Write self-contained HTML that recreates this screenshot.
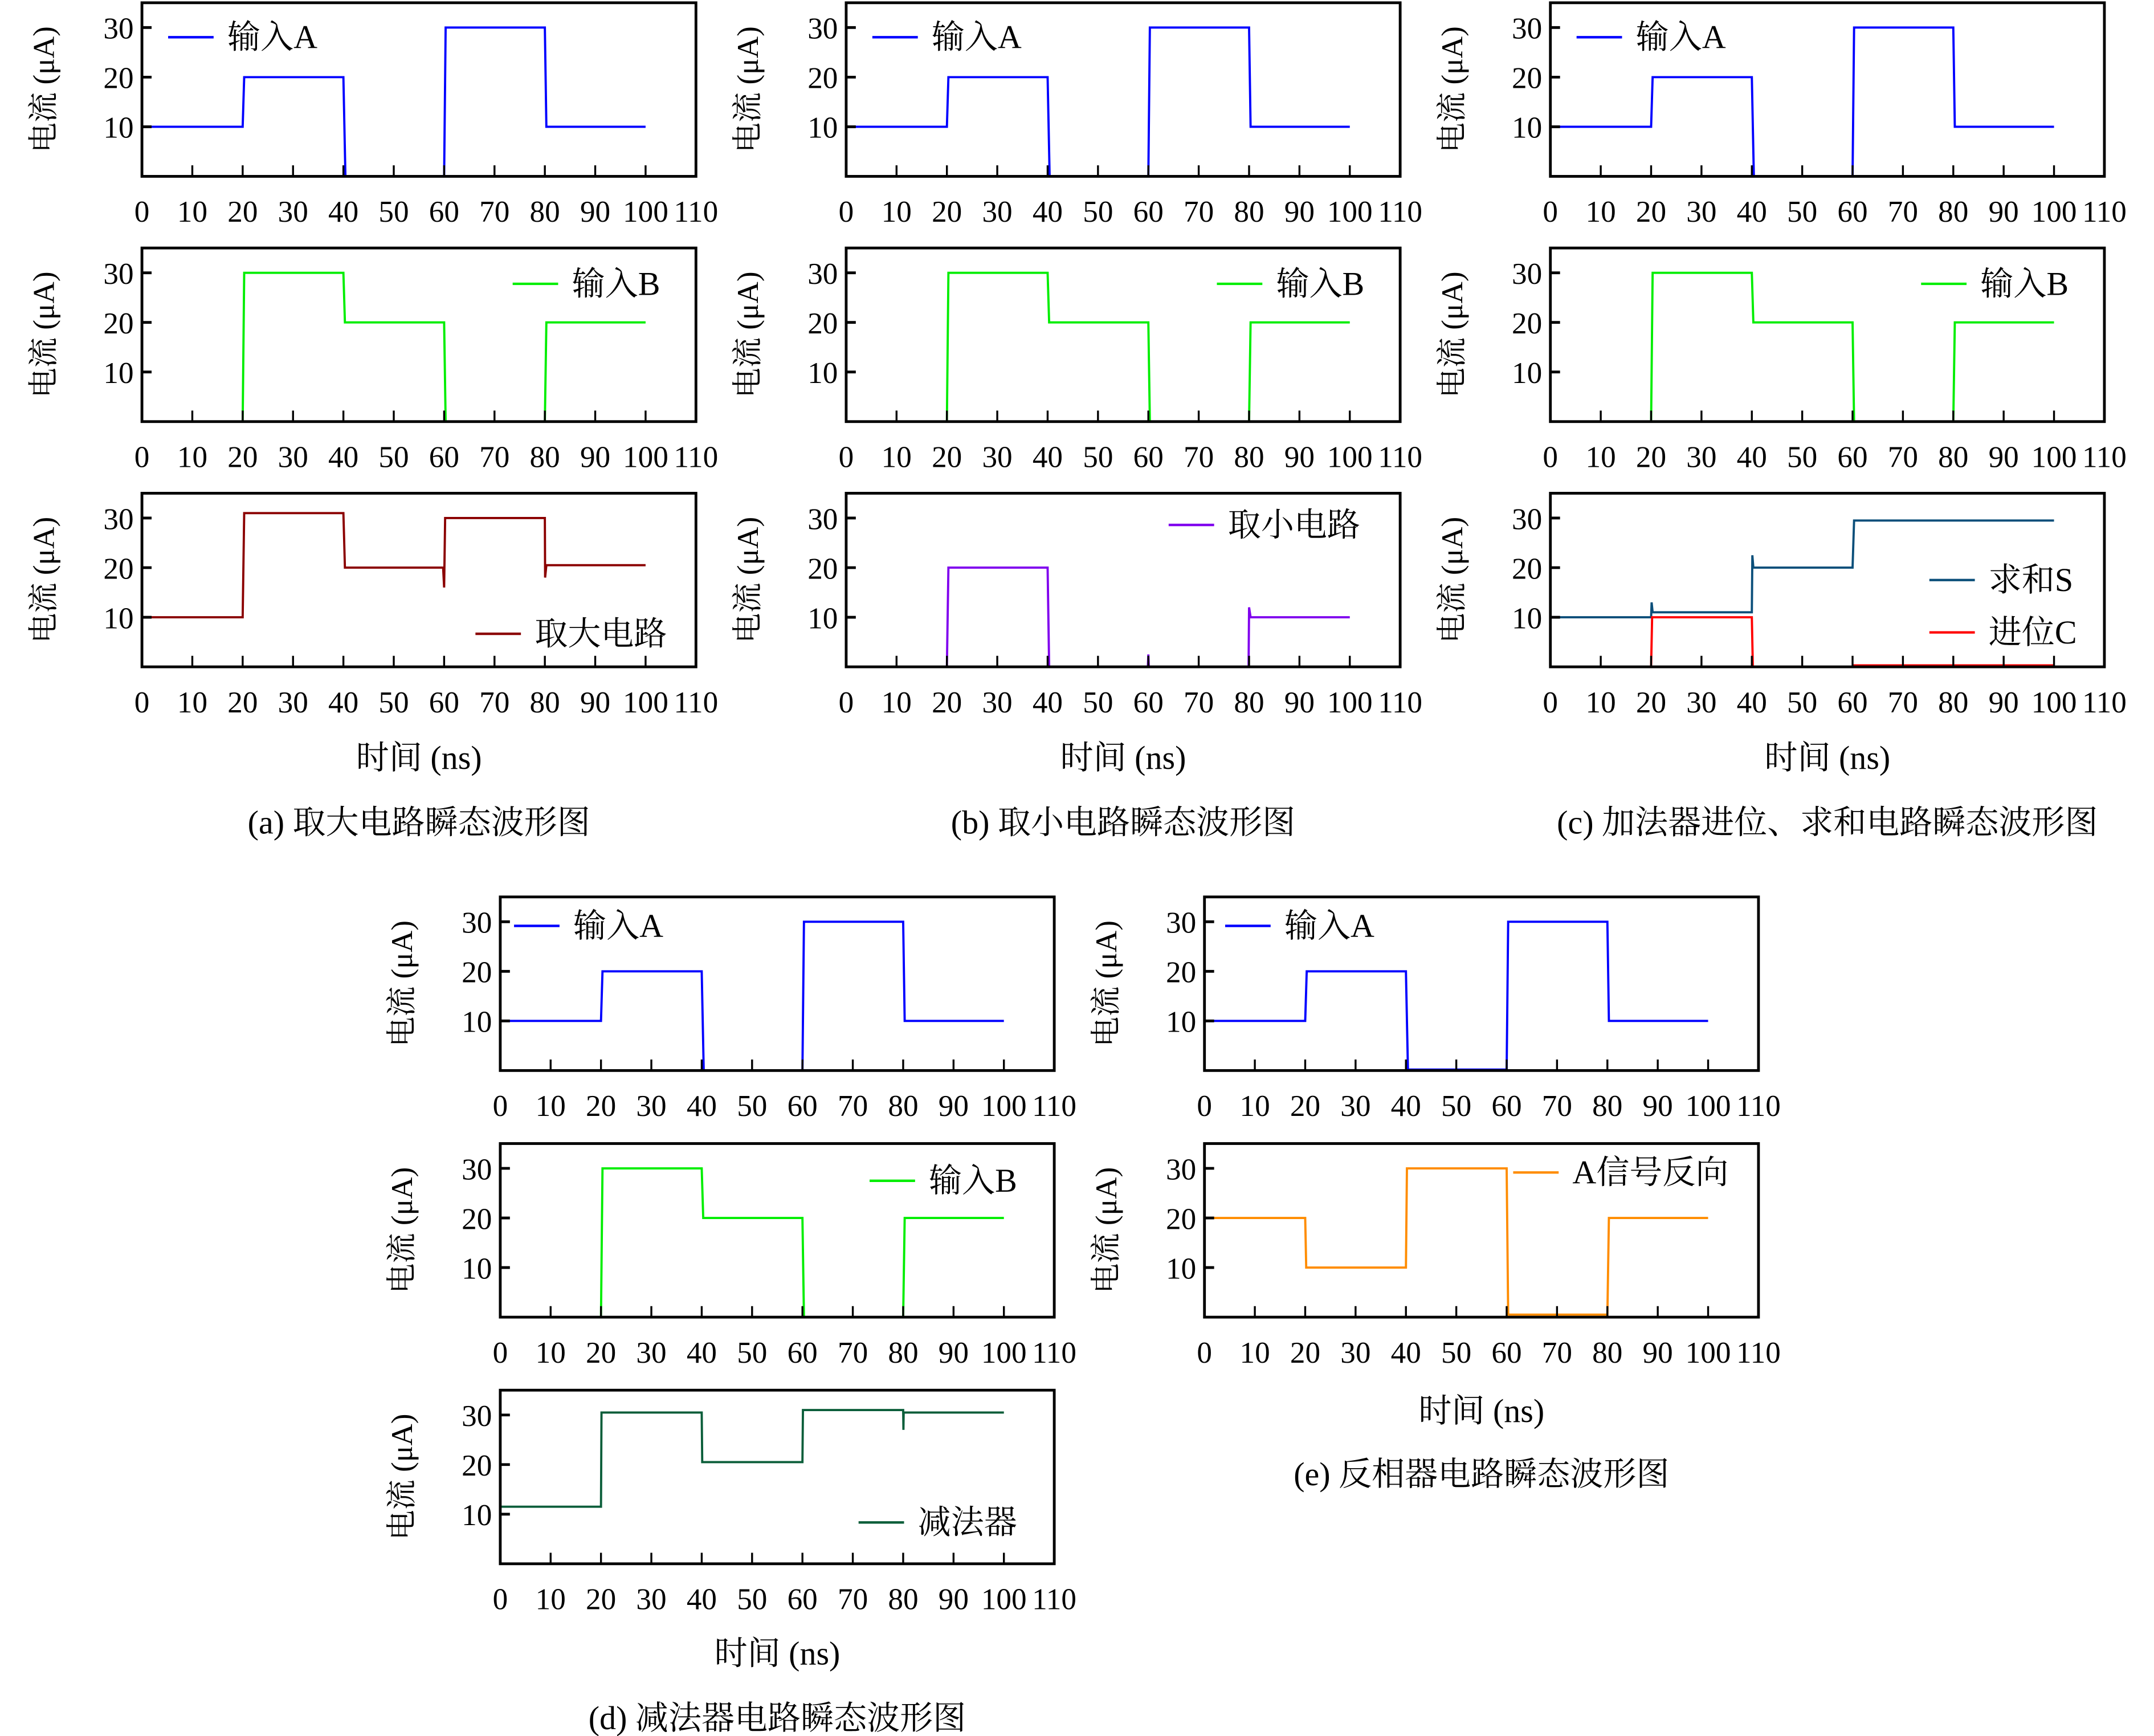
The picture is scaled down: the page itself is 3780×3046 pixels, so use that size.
<!DOCTYPE html>
<html><head><meta charset="utf-8">
<style>
html,body{margin:0;padding:0;background:#fff;}
svg{display:block;}
text{font-family:"Liberation Serif","Noto Serif CJK SC",serif;fill:#000;}
</style></head>
<body>
<svg id="fig" width="3780" height="3046" viewBox="0 0 1563 1260" preserveAspectRatio="none" xmlns="http://www.w3.org/2000/svg"></svg>
<script>
// ---- data ----
const xTicks = [0,10,20,30,40,50,60,70,80,90,100,110];
const yTicks = [10,20,30];
const inA_t = [0,20,20.3,40,40.4,60,60.3,80,80.3,100];
const inA_v = [10,10,20,20,0,0,30,30,10,10];
const inAe_v = [10,10,20,20,0.2,0.2,30,30,10,10];
const inB_t = [0,20,20.3,40,40.3,60,60.3,80,80.3,100];
const inB_v = [0,0,30,30,20,20,0,0,20,20];
const max_t = [0,20,20.3,40,40.3,59.8,60,60.2,80,80.05,80.3,100];
const max_v = [10,10,31,31,20,20,16,30,30,18,20.5,20.5];
const min_t = [0,20,20.3,40,40.3,59.9,60,60.1,79.9,80,80.3,100];
const min_v = [0,0,20,20,0,0,2.5,0,0,12,10,10];
const sum_t = [0,20,20.1,20.3,40,40.1,40.3,60,60.3,100];
const sum_v = [10,10,13,11,11,22.5,20,20,29.5,29.5];
const carry_t = [0,20,20.2,40,40.2,60,60.2,100];
const carry_v = [0,0,10,10,0,0,0.3,0.3];
const sub_t = [0,20,20.1,40,40.1,60,60.1,80,80.05,80.1,100];
const sub_v = [11.5,11.5,30.5,30.5,20.5,20.5,31,31,27,30.5,30.5];
const inv_t = [0,20,20.2,40,40.2,60,60.3,80,80.3,100];
const inv_v = [20,20,10,10,30,30,0.5,0.5,20,20];

const NS="http://www.w3.org/2000/svg";
const svg=document.getElementById('fig');
function el(tag,attrs,parent){const e=document.createElementNS(NS,tag);for(const k in attrs)e.setAttribute(k,attrs[k]);(parent||svg).appendChild(e);return e;}
const W=402,H=126,XMAX=110,YMAX=35;

function panel(id,x0,y0,series,legend){
  const g=el('g',{});
  
  
  const sx=t=>x0+t/XMAX*W, sy=v=>y0+H-v/YMAX*H;
  // series
  series.forEach(s=>{
    let d='';
    for(let i=0;i<s.t.length;i++) d+=(i?'L':'M')+sx(s.t[i]).toFixed(2)+' '+sy(s.v[i]).toFixed(2);
    const p=el('path',{d:d,fill:'none',stroke:s.color,'stroke-width':1.6,'stroke-linejoin':'miter'},g);
    
    
  });
  // frame
  const f=el('rect',{x:x0,y:y0,width:W,height:H,fill:'none',stroke:'#000','stroke-width':2},g);
  
  
  // x ticks
  xTicks.forEach(t=>{
    if(t>0&&t<XMAX) el('line',{x1:sx(t),x2:sx(t),y1:y0+H,y2:y0+H-8,stroke:'#000','stroke-width':1.4},g);
    const tx=el('text',{x:sx(t),y:y0+H+33,'font-size':22,'text-anchor':'middle'},g);
    tx.textContent=t;
    
    
  });
  yTicks.forEach(v=>{
    el('line',{x1:x0,x2:x0+7,y1:sy(v),y2:sy(v),stroke:'#000','stroke-width':2},g);
    const tx=el('text',{x:x0-6,y:sy(v)+8,'font-size':22,'text-anchor':'end'},g);
    tx.textContent=v;
    
    
  });
  const yl=el('text',{x:0,y:0,'font-size':22,'text-anchor':'middle',transform:`translate(${x0-64},${y0+H/2}) rotate(-90)`},g);
  yl.textContent='电流 (μA)';
  
  
  legend.forEach(l=>{
    const lg=el('g',{},g);
    
    
    el('line',{x1:x0+l.dx,x2:x0+l.dx+33,y1:y0+l.dy,y2:y0+l.dy,stroke:l.color,'stroke-width':1.8},lg);
    const t=el('text',{x:x0+l.dx+43,y:y0+l.dy+8,'font-size':24},lg);
    t.textContent=l.label;
  });
}
function label(x,y,txt,name,size){
  const t=el('text',{x:x,y:y,'font-size':size||24,'text-anchor':'middle'});
  t.textContent=txt;
  
  
}
const BLUE='#0000ff',GREEN='#00ee00';
const cols=[103,614,1125];
const rows=[2,180,358];
cols.forEach((x0,i)=>{
  panel('panel-input-a-'+i,x0,rows[0],[{name:'input-a',t:inA_t,v:inA_v,color:BLUE}],[{dx:19,dy:25,color:BLUE,label:'输入A'}]);
  panel('panel-input-b-'+i,x0,rows[1],[{name:'input-b',t:inB_t,v:inB_v,color:GREEN}],[{dx:269,dy:26,color:GREEN,label:'输入B'}]);
  label(x0+201,558,'时间 (ns)','x-axis-title');
});
panel('panel-max',cols[0],rows[2],[{name:'max-circuit',t:max_t,v:max_v,color:'#8b0000'}],[{dx:242,dy:102,color:'#8b0000',label:'取大电路'}]);
panel('panel-min',cols[1],rows[2],[{name:'min-circuit',t:min_t,v:min_v,color:'#8000ee'}],[{dx:234,dy:23,color:'#8000ee',label:'取小电路'}]);
panel('panel-adder',cols[2],rows[2],[{name:'sum-s',t:sum_t,v:sum_v,color:'#0b4f7a'},{name:'carry-c',t:carry_t,v:carry_v,color:'#ff0000'}],
  [{dx:275,dy:63,color:'#0b4f7a',label:'求和S'},{dx:275,dy:101,color:'#ff0000',label:'进位C'}]);
label(304,605,'(a) 取大电路瞬态波形图','caption-a');
label(815,605,'(b) 取小电路瞬态波形图','caption-b');
label(1326,605,'(c) 加法器进位、求和电路瞬态波形图','caption-c');
// row 2
panel('panel-d-input-a',363,651,[{name:'input-a',t:inA_t,v:inA_v,color:BLUE}],[{dx:10,dy:21,color:BLUE,label:'输入A'}]);
panel('panel-d-input-b',363,830,[{name:'input-b',t:inB_t,v:inB_v,color:GREEN}],[{dx:268,dy:27,color:GREEN,label:'输入B'}]);
panel('panel-subtractor',363,1009,[{name:'subtractor',t:sub_t,v:sub_v,color:'#0b5e3a'}],[{dx:260,dy:96,color:'#0b5e3a',label:'减法器'}]);
label(564,1208,'时间 (ns)','x-axis-title-d');
label(564,1255,'(d) 减法器电路瞬态波形图','caption-d');
panel('panel-e-input-a',874,651,[{name:'input-a',t:inA_t,v:inAe_v,color:BLUE}],[{dx:15,dy:21,color:BLUE,label:'输入A'}]);
panel('panel-inverter',874,830,[{name:'inverted-a',t:inv_t,v:inv_v,color:'#ff8c00'}],[{dx:224,dy:21,color:'#ff8c00',label:'A信号反向'}]);
label(1075,1032,'时间 (ns)','x-axis-title-e');
label(1075,1078,'(e) 反相器电路瞬态波形图','caption-e');
</script>
</body></html>
